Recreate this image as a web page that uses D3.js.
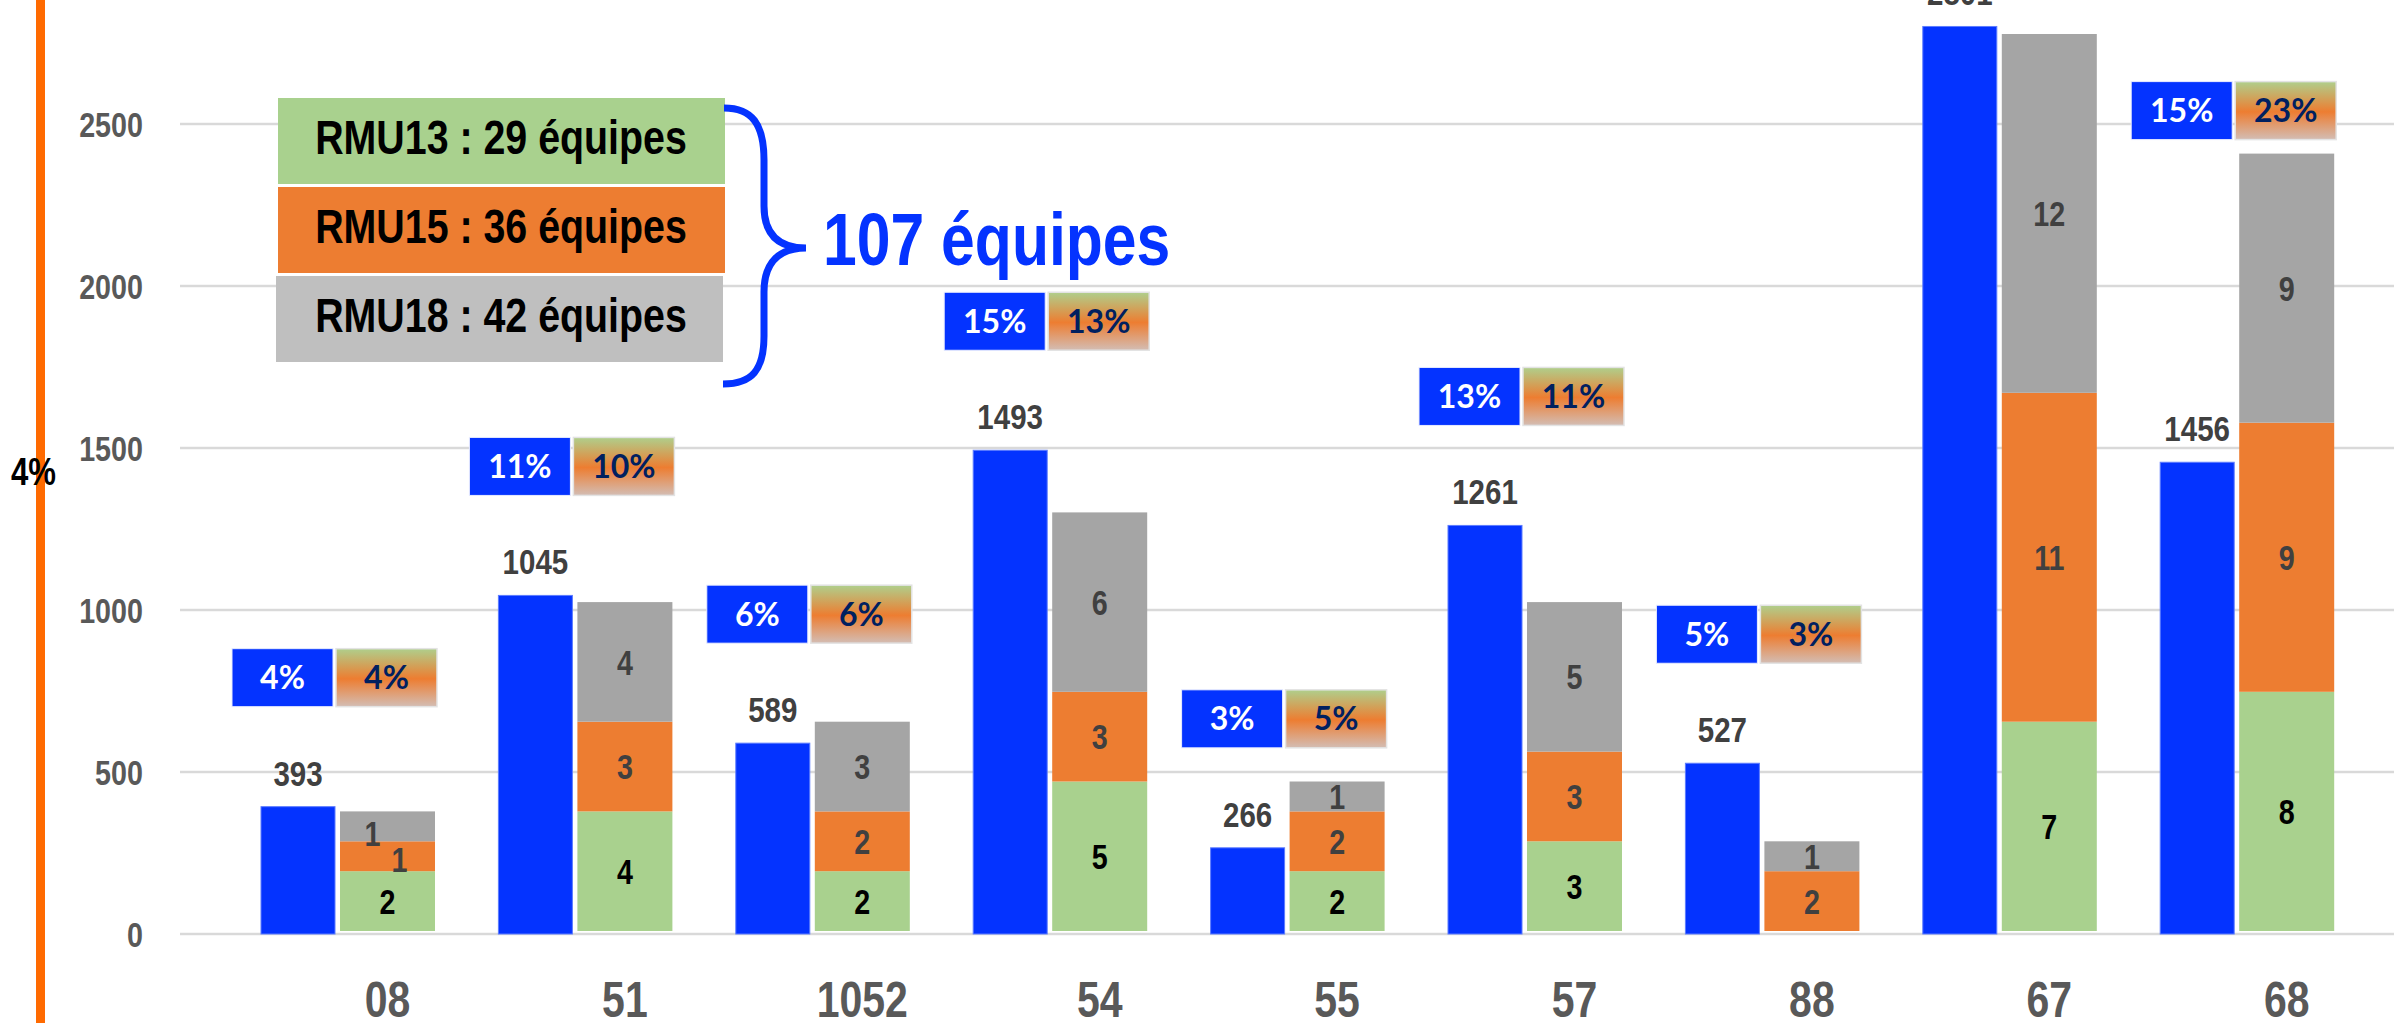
<!DOCTYPE html>
<html>
<head>
<meta charset="utf-8">
<script src="https://cdn.jsdelivr.net/npm/d3@7"></script>
<style>
  body { margin: 0; background: #fff; }
  svg { display: block; }
  .narrow { font-family: "Liberation Sans", Arial, sans-serif; font-weight: bold; }
  .pct { font-family: Lato, "Open Sans", sans-serif; font-weight: bold; }
</style>
</head>
<body>
<svg id="chart" width="2394" height="1023"></svg>
<script>
// categories (départements)
const categories = ['08', '51', '1052', '54', '55', '57', '88', '67', '68'];
// licensed players per département
const players = [393, 1045, 589, 1493, 266, 1261, 527, 2801, 1456];
// teams per category
const rmu13 = [2, 4, 2, 5, 2, 3, 0, 7, 8];
const rmu15 = [1, 3, 2, 3, 2, 3, 2, 11, 9];
const rmu18 = [1, 4, 3, 6, 1, 5, 1, 12, 9];
// share labels (67 boxes sit outside the picture)
const pctPlayers = ['4%', '11%', '6%', '15%', '3%', '13%', '5%', null, '15%'];
const pctTeams = ['4%', '10%', '6%', '13%', '5%', '11%', '3%', null, '23%'];
const yTicks = [0, 500, 1000, 1500, 2000, 2500];
const legendLabels = ['RMU13 : 29 équipes', 'RMU15 : 36 équipes', 'RMU18 : 42 équipes'];
const totalLabel = '107 équipes';

const W = 2394, H = 1023;
const BLUE = '#0433ff';
const segColors = { rmu13: '#a9d18e', rmu15: '#ed7d31', rmu18: '#a5a5a5' };
const legendColors = ['#a9d18e', '#ed7d31', '#bfbfbf'];
const NARROW = 0.82; // no narrow face installed, squeeze Liberation Sans Bold

const svg = d3.select('#chart');

// narrow text helper: position through transform so the squeeze keeps anchors
function narrow(sel, fx, fy) {
  return sel.attr('class', 'narrow')
    .attr('transform', (d, i) => `translate(${fx(d, i)},${fy(d, i)}) scale(${NARROW},1)`);
}

const defs = svg.append('defs');
const grad = defs.append('linearGradient')
  .attr('id', 'teamGrad').attr('x1', 0).attr('y1', 0).attr('x2', 0).attr('y2', 1);
grad.append('stop').attr('offset', '0%').attr('stop-color', '#afcf8c');
grad.append('stop').attr('offset', '52%').attr('stop-color', '#ed7d31');
grad.append('stop').attr('offset', '100%').attr('stop-color', '#d3bdb4');

// scales
const x = d3.scaleBand().domain(categories).range([261, 261 + 237.4 * categories.length]);
const y = d3.scaleLinear().domain([0, 2500]).range([934, 124]);
const yTeams = d3.scaleLinear().domain([0, 25]).range([931, 183.5]);

const blueW = 74, stackX = 79, stackW = 95;

// gridlines + y labels
const grid = svg.append('g');
grid.selectAll('line').data(yTicks).join('line')
  .attr('x1', 180).attr('x2', W)
  .attr('y1', d => y(d)).attr('y2', d => y(d))
  .attr('stroke', '#d9d9d9').attr('stroke-width', 2.5);
narrow(grid.selectAll('text').data(yTicks).join('text'), () => 143, d => y(d))
  .attr('dy', '0.36em')
  .attr('text-anchor', 'end')
  .attr('font-size', 35).attr('fill', '#595959')
  .text(d => d);

// orange rule on the left
svg.append('rect').attr('x', 36).attr('y', 0).attr('width', 9).attr('height', H).attr('fill', '#ff6a00');
narrow(svg.append('text'), () => 11, () => 485)
  .attr('font-size', 38).attr('fill', '#000').text('4%');

const rows = categories.map((c, i) => ({
  cat: c, players: players[i],
  segs: [['rmu13', rmu13[i]], ['rmu15', rmu15[i]], ['rmu18', rmu18[i]]],
  teams: rmu13[i] + rmu15[i] + rmu18[i],
  pp: pctPlayers[i], pt: pctTeams[i]
}));

// players bars
svg.append('g').selectAll('rect').data(rows).join('rect')
  .attr('x', d => x(d.cat)).attr('width', blueW)
  .attr('y', d => y(d.players)).attr('height', d => y(0) - y(d.players))
  .attr('fill', BLUE).attr('stroke', '#5d7cff').attr('stroke-width', 1);

narrow(svg.append('g').selectAll('text').data(rows).join('text'),
  d => x(d.cat) + blueW / 2, d => y(d.players) - 21)
  .attr('text-anchor', 'middle').attr('font-size', 36).attr('fill', '#404040')
  .text(d => d.players);

// stacked team bars
const stackG = svg.append('g');
rows.forEach(r => {
  let acc = 0;
  const parts = r.segs.map(([k, v]) => {
    const p = { key: k, v, y0: acc, y1: acc + v };
    acc += v;
    return p;
  }).filter(p => p.v > 0);
  const g = stackG.append('g');
  g.selectAll('rect').data(parts).join('rect')
    .attr('x', x(r.cat) + stackX).attr('width', stackW)
    .attr('y', p => yTeams(p.y1)).attr('height', p => yTeams(p.y0) - yTeams(p.y1))
    .attr('fill', p => segColors[p.key]);
  // two thin neighbours: labels pushed sideways so they don't collide
  const thin = parts.filter(p => yTeams(p.y0) - yTeams(p.y1) < 31);
  const squeezed = p => thin.length > 1 && thin.includes(p);
  narrow(g.selectAll('text').data(parts).join('text'),
    p => x(r.cat) + stackX + stackW / 2 + (squeezed(p) ? (p.key === 'rmu18' ? -15 : 12) : 0),
    p => (yTeams(p.y0) + yTeams(p.y1)) / 2 + (squeezed(p) ? (p.key === 'rmu18' ? 7 : 3) : 0))
    .attr('dy', '0.36em').attr('text-anchor', 'middle')
    .attr('font-size', 35)
    .attr('fill', p => p.key === 'rmu13' ? '#000' : '#404040')
    .text(p => p.v);
});

// share boxes above each group
const boxW = 101, boxH = 58;
const boxes = svg.append('g');
rows.filter(r => r.pp).forEach(r => {
  const bottom = Math.min(y(r.players) - 100, yTeams(r.teams) - 14);
  const top = bottom - boxH;
  const bx = x(r.cat) - 29;
  boxes.append('rect').attr('x', bx).attr('y', top).attr('width', boxW).attr('height', boxH)
    .attr('fill', BLUE).attr('stroke', '#e8ecff').attr('stroke-width', 1);
  boxes.append('rect').attr('x', bx + boxW + 3).attr('y', top).attr('width', boxW).attr('height', boxH)
    .attr('fill', 'url(#teamGrad)').attr('stroke', '#e3e3e3').attr('stroke-width', 1.5);
  boxes.append('text').attr('class', 'pct')
    .attr('x', bx + boxW / 2).attr('y', top + boxH / 2).attr('dy', '0.36em')
    .attr('text-anchor', 'middle').attr('font-size', 32).attr('fill', '#fff').text(r.pp);
  boxes.append('text').attr('class', 'pct')
    .attr('x', bx + boxW + 3 + boxW / 2).attr('y', top + boxH / 2).attr('dy', '0.36em')
    .attr('text-anchor', 'middle').attr('font-size', 32).attr('fill', '#002060').text(r.pt);
});

// category labels
narrow(svg.append('g').selectAll('text').data(categories).join('text'),
  d => x(d) + stackX + stackW / 2, () => 1017)
  .attr('text-anchor', 'middle').attr('font-size', 50).attr('fill', '#595959')
  .text(d => d);

// legend block
const leg = svg.append('g');
leg.selectAll('rect').data(legendLabels).join('rect')
  .attr('x', (d, i) => i === 2 ? 276 : 278).attr('width', 447)
  .attr('y', (d, i) => 98 + i * 89).attr('height', 86)
  .attr('fill', (d, i) => legendColors[i]);
narrow(leg.selectAll('text').data(legendLabels).join('text'),
  () => 501, (d, i) => 154 + i * 89)
  .attr('text-anchor', 'middle').attr('font-size', 48).attr('fill', '#000')
  .text(d => d);

// brace
svg.append('path')
  .attr('d', 'M724,108 C752,108 764,124 764,160 L764,206 C764,236 780,248 806,248 C780,248 764,261 764,292 L764,336 C764,370 752,384 723,384')
  .attr('fill', 'none').attr('stroke', BLUE).attr('stroke-width', 7);
narrow(svg.append('text'), () => 823, () => 265)
  .attr('font-size', 74).attr('fill', BLUE)
  .text(totalLabel);
</script>
</body>
</html>
